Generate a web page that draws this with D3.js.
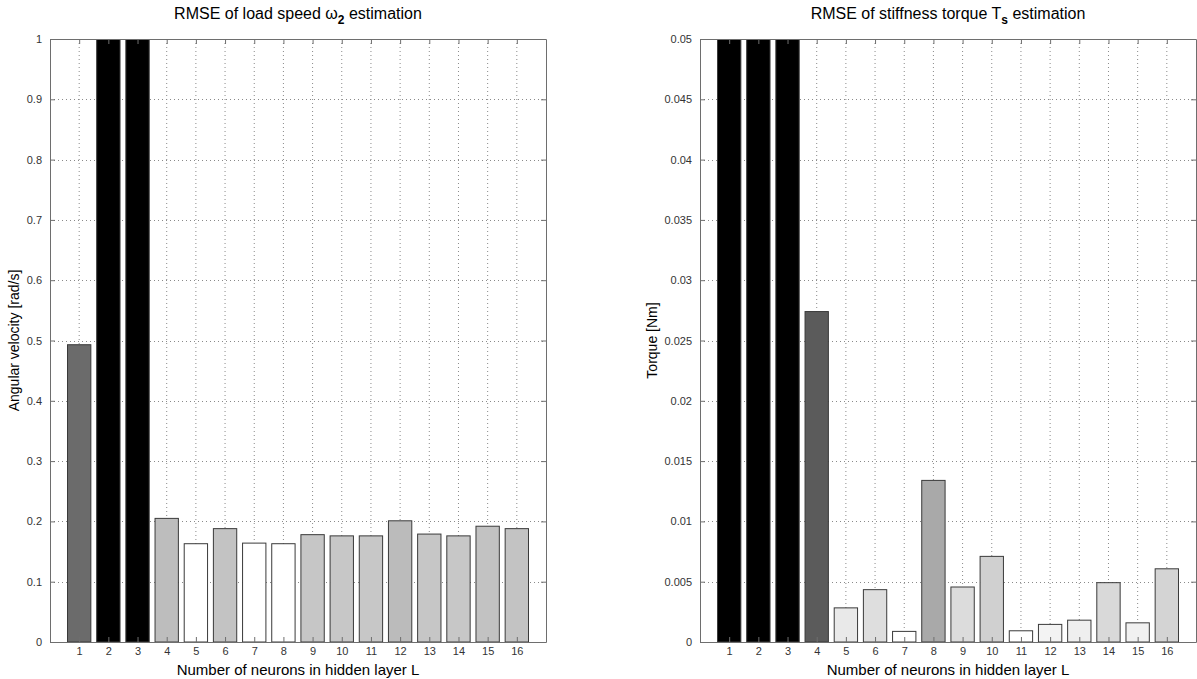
<!DOCTYPE html>
<html>
<head>
<meta charset="utf-8">
<script src="https://cdn.jsdelivr.net/npm/d3@7"></script>
<style>
  body { margin: 0; background: #fff; }
  svg { font-family: "Liberation Sans", Arial, sans-serif; }
</style>
</head>
<body>
<svg id="chart" width="1197" height="679"></svg>
<script>
// values (bars 2,3 and 1-3 go past the top, clipped)
const neurons = [1, 2, 3, 4, 5, 6, 7, 8, 9, 10, 11, 12, 13, 14, 15, 16];

const speedRmse = [0.493, 1.4, 1.4, 0.205, 0.163, 0.188, 0.164, 0.163,
                   0.178, 0.176, 0.176, 0.201, 0.179, 0.176, 0.192, 0.188];
const speedShade = ['#6b6b6b', '#000000', '#000000', '#bdbdbd', '#ffffff', '#c3c3c3', '#ffffff', '#ffffff',
                    '#c6c6c6', '#c7c7c7', '#c7c7c7', '#bbbbbb', '#c6c6c6', '#c7c7c7', '#c2c2c2', '#c3c3c3'];
const speedTicks = [0, 0.1, 0.2, 0.3, 0.4, 0.5, 0.6, 0.7, 0.8, 0.9, 1];

const torqueRmse = [0.07, 0.07, 0.07, 0.0274, 0.00283, 0.00434, 0.00088, 0.0134,
                    0.00456, 0.0071, 0.00093, 0.00146, 0.00181, 0.00492, 0.00159, 0.00607];
const torqueShade = ['#000000', '#000000', '#000000', '#5b5b5b', '#e9e9e9', '#dedede', '#ffffff', '#a9a9a9',
                     '#dcdcdc', '#d0d0d0', '#ffffff', '#f3f3f3', '#efefef', '#d9d9d9', '#f1f1f1', '#d4d4d4'];
const torqueTicks = [0, 0.005, 0.01, 0.015, 0.02, 0.025, 0.03, 0.035, 0.04, 0.045, 0.05];

class RmseBarchart {

  constructor(_config, _data) {
    this.config = {
      id: _config.id,
      left: _config.left,
      top: _config.top || 39,
      width: _config.width || 496,
      height: _config.height || 603,
      yMax: _config.yMax,
      yTicks: _config.yTicks,
      titleParts: _config.titleParts,
      yLabel: _config.yLabel,
      yLabelX: _config.yLabelX
    };
    this.data = _data;
    this.initVis();
  }

  initVis() {
    let vis = this;
    const c = vis.config;

    vis.svg = d3.select('#chart');

    vis.xScale = d3.scaleLinear().domain([0, 17]).range([0, c.width]);
    vis.yScale = d3.scaleLinear().domain([0, c.yMax]).range([c.height, 0]);

    vis.chart = vis.svg.append('g')
      .attr('transform', `translate(${c.left},${c.top})`);

    vis.svg.append('defs').append('clipPath')
      .attr('id', `clip-${c.id}`)
      .append('rect')
      .attr('width', c.width)
      .attr('height', c.height);

    // title with subscript
    const title = vis.chart.append('text')
      .attr('x', c.width / 2)
      .attr('y', -20)
      .attr('text-anchor', 'middle')
      .attr('font-size', '16px')
      .attr('fill', '#000');
    c.titleParts.forEach(p => {
      title.append('tspan')
        .attr('dy', p.dy || 0)
        .attr('font-size', p.size || null)
        .attr('font-weight', p.bold ? 'bold' : null)
        .text(p.t);
    });

    vis.chart.append('text')
      .attr('x', c.width / 2)
      .attr('y', c.height + 33)
      .attr('text-anchor', 'middle')
      .attr('font-size', '15px')
      .text('Number of neurons in hidden layer L');

    vis.chart.append('text')
      .attr('transform', `translate(${c.yLabelX - c.left},${c.height / 2}) rotate(-90)`)
      .attr('text-anchor', 'middle')
      .attr('font-size', '14px')
      .text(c.yLabel);

    vis.renderVis();
  }

  renderVis() {
    let vis = this;
    const c = vis.config;
    const bw = 0.8;

    // dotted grid
    vis.chart.selectAll('.gx')
      .data(vis.data.x)
      .join('line')
      .attr('class', 'gx')
      .attr('x1', d => vis.xScale(d)).attr('x2', d => vis.xScale(d))
      .attr('y1', 0).attr('y2', c.height)
      .attr('stroke', '#8a8a8a').attr('stroke-dasharray', '1,3');

    vis.chart.selectAll('.gy')
      .data(c.yTicks)
      .join('line')
      .attr('class', 'gy')
      .attr('x1', 0).attr('x2', c.width)
      .attr('y1', d => Math.round(vis.yScale(d)) + 0.5).attr('y2', d => Math.round(vis.yScale(d)) + 0.5)
      .attr('stroke', '#8a8a8a').attr('stroke-dasharray', '1,3');

    vis.chart.append('g')
      .attr('clip-path', `url(#clip-${c.id})`)
      .selectAll('rect')
      .data(vis.data.y)
      .join('rect')
      .attr('x', (d, i) => vis.xScale(vis.data.x[i] - bw / 2))
      .attr('y', d => vis.yScale(d))
      .attr('width', vis.xScale(bw) - vis.xScale(0))
      .attr('height', d => vis.yScale(0) - vis.yScale(d))
      .attr('fill', (d, i) => vis.data.shade[i])
      .attr('stroke', '#3a3a3a')
      .attr('stroke-width', 1);

    // axes, matlab style: inside ticks on all four sides
    const yLeft = d3.axisLeft(vis.yScale).tickValues(c.yTicks)
      .tickSizeInner(-5).tickSizeOuter(0).tickPadding(8).tickFormat(d => String(d));
    const yRight = d3.axisRight(vis.yScale).tickValues(c.yTicks)
      .tickSizeInner(-5).tickSizeOuter(0).tickFormat('');
    const xBottom = d3.axisBottom(vis.xScale).tickValues(vis.data.x)
      .tickSizeInner(-5).tickSizeOuter(0).tickPadding(5).tickFormat(d => String(d));
    const xTop = d3.axisTop(vis.xScale).tickValues(vis.data.x)
      .tickSizeInner(-5).tickSizeOuter(0).tickFormat('');

    vis.chart.append('g').call(yLeft);
    vis.chart.append('g').attr('transform', `translate(${c.width},0)`).call(yRight);
    vis.chart.append('g').attr('transform', `translate(0,${c.height})`).call(xBottom);
    vis.chart.append('g').call(xTop);

    vis.chart.selectAll('.domain').attr('stroke', '#6e6e6e');
    vis.chart.selectAll('.tick line').attr('stroke', '#6e6e6e');
    vis.chart.selectAll('.tick text')
      .attr('font-family', '"Liberation Sans", Arial, sans-serif')
      .attr('font-size', '11px')
      .attr('fill', '#333');
  }
}

new RmseBarchart({
  id: 'speed',
  left: 50,
  yMax: 1,
  yTicks: speedTicks,
  yLabel: 'Angular velocity [rad/s]',
  yLabelX: 19,
  titleParts: [
    { t: 'RMSE of load speed ' },
    { t: 'ω' },
    { t: '2', dy: 5, size: '12px', bold: true },
    { t: ' estimation', dy: -5 }
  ]
}, { x: neurons, y: speedRmse, shade: speedShade });

new RmseBarchart({
  id: 'torque',
  left: 700,
  yMax: 0.05,
  yTicks: torqueTicks,
  yLabel: 'Torque [Nm]',
  yLabelX: 657,
  titleParts: [
    { t: 'RMSE of stiffness torque T' },
    { t: 's', dy: 5, size: '12px', bold: true },
    { t: ' estimation', dy: -5 }
  ]
}, { x: neurons, y: torqueRmse, shade: torqueShade });
</script>
</body>
</html>
